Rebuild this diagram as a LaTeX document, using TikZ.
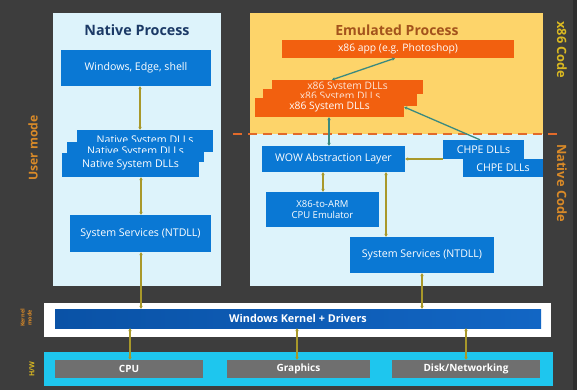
\documentclass[tikz,border=0pt]{standalone}
\usepackage{fontspec}
\setmainfont{Open Sans}
\usetikzlibrary{arrows.meta}
\definecolor{bg}{HTML}{3D3D3D}
\definecolor{bgdark}{HTML}{2E2E2E}
\definecolor{panel}{HTML}{DDF3FB}
\definecolor{yel}{HTML}{FDD46A}
\definecolor{winblue}{HTML}{0A78D4}
\definecolor{kblue}{HTML}{0A52A6}
\definecolor{kblue2}{HTML}{1266C4}
\definecolor{obox}{HTML}{F2600F}
\definecolor{hwcyan}{HTML}{1EC6EE}
\definecolor{hwgray}{HTML}{6F6F6F}
\definecolor{olv}{HTML}{A8982A}
\definecolor{tealc}{HTML}{3A8A80}
\definecolor{lblor}{HTML}{D98A28}
\definecolor{lblyel}{HTML}{D9B822}
\definecolor{dashor}{HTML}{E26A2A}
\definecolor{navy}{HTML}{1B3966}
\definecolor{brownc}{HTML}{A3531C}
\begin{document}
\begin{tikzpicture}[x=1pt,y=-1pt,
  wh/.style 2 args={minimum width=#1pt, minimum height=#2pt},
  box/.style={fill=winblue, text=white, inner sep=0pt, align=center, font=\fontsize{10.6}{12}\selectfont},
  orbox/.style={box, fill=obox, font=\fontsize{10.3}{12}\selectfont},
  hwbox/.style={fill=hwgray, text=white, inner sep=0pt, font=\bfseries\fontsize{10}{11}\selectfont},
  arrtwo/.style={draw=olv, line width=1.1pt, {Stealth[length=3pt,width=3.5pt]}-{Stealth[length=3pt,width=3.5pt]}},
  arrone/.style={draw=olv, line width=1.1pt, -{Stealth[length=3pt,width=3.5pt]}},
  tarr/.style={draw=tealc, line width=1.3pt, {Stealth[length=3pt,width=3.5pt]}-{Stealth[length=3pt,width=3.5pt]}},
  side/.style={font=\bfseries\fontsize{12.8}{14}\selectfont}
]
\useasboundingbox (0,0) rectangle (577,390);
\fill[bg] (0,0) rectangle (577,390);
\fill[bgdark] (573,0) rectangle (577,390);

% panels
\node[fill=panel, inner sep=0pt, wh={168}{273}] (np) at (137,149.5) {};
\node[fill=panel, inner sep=0pt, wh={293}{273}] (ep) at (396.5,149.5) {};
\fill[yel] (ep.north west) rectangle (543,134);
\node[text=navy, font=\bfseries\fontsize{14.3}{16}\selectfont] (npt) at (137,30) {Native Process};
\node[text=brownc, font=\bfseries\fontsize{14}{16}\selectfont] (ept) at (397,30) {Emulated Process};

% dashed separator
\coordinate (d1) at (233,134);
\coordinate (d2) at (560,134);
\draw[draw=dashor, line width=2.5pt, dash pattern=on 9pt off 6pt] (d1) -- (d2);

% native process
\node[box, wh={150}{36}] (win) at (136,68) {Windows, Edge, shell};
\node[box, wh={136}{22}] (nd3) at (145,141) {Native System DLLs};
\node[box, wh={137}{20}] (nd2) at (135.5,152) {Native System DLLs};
\node[box, wh={137}{24}] (nd1) at (130.5,165) {Native System DLLs};
\node[box, wh={141}{37}] (ssl) at (140.5,233.5) {System Services (NTDLL)};

% emulated process
\node[orbox, wh={232}{18}] (app) at (398,49) {x86 app (e.g. Photoshop)};
\node[orbox, wh={151}{14}, text=white!85!obox] (xd3) at (347.5,87) {x86 System DLLs};
\node[orbox, wh={154}{17}, text=white!85!obox] (xd2) at (340,97.5) {x86 System DLLs};
\node[orbox, wh={149}{19}] (xd1) at (329.5,107.5) {x86 System DLLs};
\node[box, wh={143}{26}] (wow) at (333.5,159) {WOW Abstraction Layer};
\node[box, wh={81}{19}] (ch1) at (483.5,149.5) {CHPE DLLs};
\node[box, wh={80}{18}] (ch2) at (503,168) {CHPE DLLs};
\node[box, wh={113}{35}, font=\fontsize{9.5}{11.5}\selectfont] (emu) at (322.5,209.5) {X86-to-ARM\\CPU Emulator};
\node[box, wh={144}{36}] (ssr) at (422,255) {System Services (NTDLL)};

% kernel & hardware
\node[fill=white, inner sep=0pt, wh={507}{34}] (km) at (297.5,320) {};
\node[left color=kblue, right color=kblue2, text=white, inner sep=0pt, wh={486}{19}, font=\bfseries\fontsize{10.8}{12}\selectfont] (kb) at (298,318.5) {Windows Kernel + Drivers};
\node[fill=hwcyan, inner sep=0pt, wh={509}{34}] (hw) at (298.5,369) {};
\node[hwbox, wh={148}{18}] (cpu) at (129,369) {CPU};
\node[hwbox, wh={143}{18}] (gfx) at (298.5,369) {Graphics};
\node[hwbox, wh={148}{18}] (disk) at (466,369) {Disk/Networking};

% side labels
\node[side, text=lblor, rotate=90, font=\bfseries\fontsize{12.2}{14}\selectfont] (um) at (33,148) {User mode};
\node[text=lblor, rotate=90, align=center, font=\bfseries\fontsize{5.5}{7}\selectfont] (kml) at (26,318) {Kernel\\mode};
\node[text=lblyel, rotate=90, font=\bfseries\fontsize{7}{8}\selectfont] (hwl) at (32,369) {H/W};
\node[side, text=lblyel, rotate=-90] (x86c) at (562,50) {x86 Code};
\node[side, text=lblor, rotate=-90] (natc) at (562,183) {Native Code};

% connectors
\coordinate (c1) at (140,0);
\draw[arrtwo] (c1 |- win.south) -- (c1 |- nd3.north);
\coordinate (c2) at (141,0);
\draw[arrtwo] (c2 |- nd1.south) -- (c2 |- ssl.north);
\draw[arrtwo] (c2 |- ssl.south) -- (c2 |- kb.north);
\coordinate (c3) at (130,0);
\draw[arrtwo] (c3 |- cpu.north) -- (c3 |- kb.south);
\coordinate (c4) at (297,0);
\draw[arrtwo] (c4 |- gfx.north) -- (c4 |- kb.south);
\coordinate (c5) at (466,0);
\draw[arrtwo] (c5 |- disk.north) -- (c5 |- kb.south);
\coordinate (c6) at (422,0);
\draw[arrtwo] (c6 |- ssr.south) -- (c6 |- kb.north);
\coordinate (c7) at (323,0);
\draw[arrtwo] (c7 |- wow.south) -- (c7 |- emu.north);
\coordinate (c8) at (386,0);
\draw[arrtwo] (c8 |- wow.south) -- (c8 |- ssr.north);
\coordinate (c9) at (0,159);
\draw[arrone] (ch1.west |- c9) -- (wow.east |- c9);
\coordinate (c10) at (329,0);
\draw[tarr] (c10 |- xd1.south) -- (c10 |- wow.north);
\coordinate (c11) at (395,0);
\coordinate (c12) at (332,0);
\draw[tarr] (c11 |- app.south) -- (c12 |- xd3.north);
\coordinate (c13) at (0,107);
\coordinate (c14) at (480,0);
\draw[draw=tealc, line width=1.3pt, {Stealth[length=3pt,width=3.5pt]}-] (xd1.east |- c13) -- (c14 |- ch1.north);
\end{tikzpicture}
\end{document}
